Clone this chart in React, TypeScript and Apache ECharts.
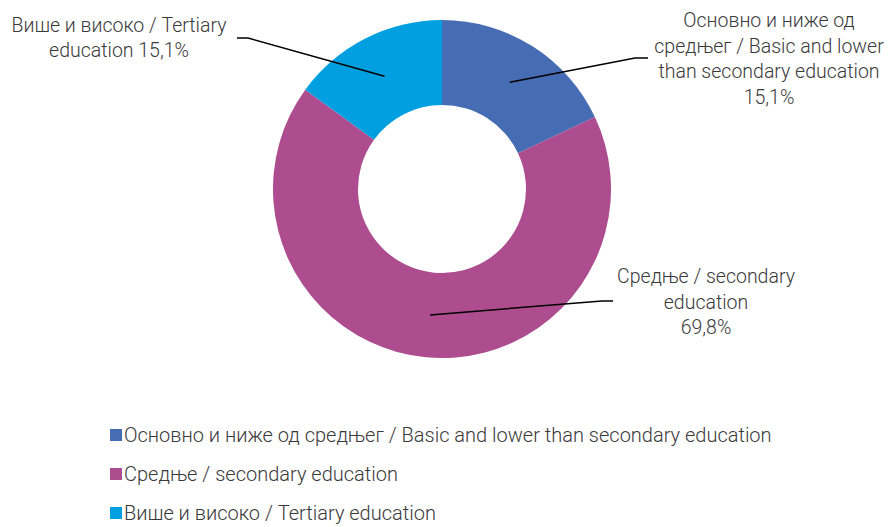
import { useEffect, useRef } from "react";
import * as echarts from "echarts";

const categories = [
  "Основно и ниже од средњег / Basic and lower than secondary education",
  "Средње / secondary education",
  "Више и високо / Tertiary education",
];
const sliceValues = [18.0, 67.0, 15.0];
const shareLabels = ["15,1%", "69,8%", "15,1%"];
const labelNames = [
  "Основно и ниже од\nсредњег / Basic and lower\nthan secondary education",
  "Средње / secondary\neducation",
  "Више и високо / Tertiary\neducation",
];
const shareSeparators = ["\n", "\n", " "];
const colors = ["#466db3", "#ad4c8f", "#00a0e0"];

// layout constants
const CX = 442;
const CY = 189;
const R_IN = 84;
const R_OUT = 169;
const labelCenters = [
  [769, 59],
  [706, 302],
  [119, 38],
];
const leaderEnds = [
  [[635, 58], [648, 58]],
  [[602, 301], [613, 301]],
  [[248, 38], [237, 38]],
];

const FONT = "Roboto, 'Noto Sans', sans-serif";
const TEXT_COLOR = "#3a3a3a";

export default function App() {
  const ref = useRef<HTMLDivElement>(null);
  useEffect(() => {
    if (!ref.current) return;
    const chart = echarts.init(ref.current, undefined, { renderer: "svg" });
    const total = sliceValues.reduce((a, b) => a + b, 0);
    const cum: number[] = [];
    let acc = 0;
    sliceValues.forEach((v) => {
      cum.push(acc + v / 2);
      acc += v;
    });
    const rm = (R_IN + R_OUT) / 2;
    const leaders = sliceValues.map((_, i) => {
      const theta = (cum[i] / total) * Math.PI * 2;
      const start = [CX + rm * Math.sin(theta), CY - rm * Math.cos(theta)];
      return {
        type: "polyline",
        silent: true,
        z: 10,
        shape: { points: [start, leaderEnds[i][0], leaderEnds[i][1]] },
        style: { stroke: "#000000", lineWidth: 1.5, fill: "none" },
      };
    });
    chart.setOption({
      animation: false,
      backgroundColor: "#ffffff",
      color: colors,
      graphic: leaders,
      legend: {
        orient: "vertical",
        left: 110,
        top: 425,
        height: 160,
        padding: 0,
        icon: "rect",
        itemWidth: 12,
        itemHeight: 12,
        itemGap: 19,
        selectedMode: false,
        data: categories,
        textStyle: {
          fontFamily: FONT,
          fontSize: 20,
          fontWeight: 300,
          lineHeight: 20,
          color: TEXT_COLOR,
          padding: [0, 0, 0, -3],
        },
      },
      series: [
        {
          type: "pie",
          center: [CX, CY],
          radius: [R_IN, R_OUT],
          startAngle: 90,
          clockwise: true,
          avoidLabelOverlap: false,
          data: categories.map((name, i) => ({ name, value: sliceValues[i] })),
          itemStyle: { borderWidth: 0 },
          emphasis: { disabled: true },
          label: {
            show: true,
            position: "outside",
            formatter: (p: any) =>
              labelNames[p.dataIndex] + shareSeparators[p.dataIndex] + shareLabels[p.dataIndex],
            fontFamily: FONT,
            fontSize: 19.5,
            fontWeight: 300,
            lineHeight: 25.5,
            color: TEXT_COLOR,
            align: "center",
            overflow: "none",
          },
          labelLine: { show: false },
          labelLayout: (params: any) => {
            const i = params.dataIndex;
            return {
              x: labelCenters[i][0],
              y: labelCenters[i][1],
              align: "center",
              verticalAlign: "middle",
            };
          },
        },
      ],
    });
    return () => chart.dispose();
  }, []);
  return (
    <div
      ref={ref}
      style={{ position: "fixed", left: 0, top: 0, width: 889, height: 527 }}
    />
  );
}
